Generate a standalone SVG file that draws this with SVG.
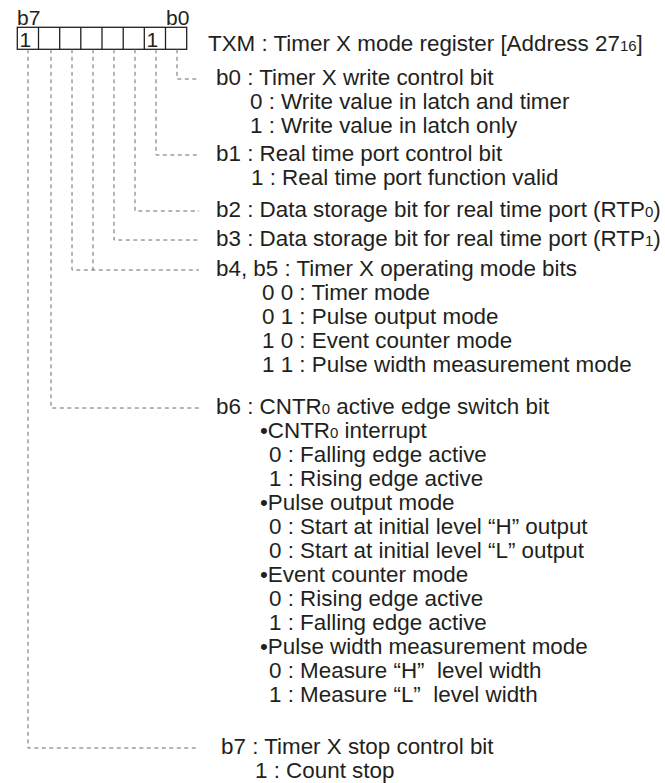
<svg xmlns="http://www.w3.org/2000/svg" width="665" height="783" viewBox="0 0 665 783">
<style>
text{font-family:"Liberation Sans",Arial,sans-serif;font-size:22.4px;fill:#231f20;white-space:pre}
.s{font-size:15px}
.box{fill:#fff;stroke:#231f20;stroke-width:1.3}
.dl{fill:none;stroke:#6a6a6a;stroke-width:1;stroke-dasharray:4 3.5}
</style>
<rect width="665" height="783" fill="#fff"/>
<g id="register">
<text x="17" y="25" style="font-size:21px">b7</text>
<text x="166" y="25" style="font-size:21px">b0</text>
<rect class="box" x="17.3" y="27.3" width="169.4" height="22"/>
<path d="M38.5 27.3V49.3M59.7 27.3V49.3M80.8 27.3V49.3M102 27.3V49.3M123.2 27.3V49.3M144.3 27.3V49.3M165.5 27.3V49.3" stroke="#231f20" stroke-width="1.3"/>
<text x="19.5" y="46.5" style="font-size:21px">1</text>
<text x="146.5" y="46.5" style="font-size:21px">1</text>
<text x="208" y="51">TXM : Timer X mode register [Address 27<tspan class="s">16</tspan>]</text>
</g>
<g id="connectors">
<path class="dl" d="M177 49.3V79H199"/>
<path class="dl" d="M156 49.3V155H199"/>
<path class="dl" d="M135 49.3V211H199"/>
<path class="dl" d="M114 49.3V240H199"/>
<path class="dl" d="M93 49.3V270"/>
<path class="dl" d="M72 49.3V270H199"/>
<path class="dl" d="M51 49.3V408H199"/>
<path class="dl" d="M28 49.3V748H199"/>
</g>
<g id="b0">
<text x="216" y="84.5">b0 : Timer X write control bit</text>
<text x="250" y="108.5">0 : Write value in latch and timer</text>
<text x="250" y="132.5">1 : Write value in latch only</text>
</g>
<g id="b1">
<text x="216" y="160.5">b1 : Real time port control bit</text>
<text x="251" y="184.5">1 : Real time port function valid</text>
</g>
<g id="b2">
<text x="216" y="216.5">b2 : Data storage bit for real time port (RTP<tspan class="s">0</tspan>)</text>
</g>
<g id="b3">
<text x="216" y="245.5">b3 : Data storage bit for real time port (RTP<tspan class="s">1</tspan>)</text>
</g>
<g id="b4b5">
<text x="216" y="275.5">b4, b5 : Timer X operating mode bits</text>
<text x="262" y="299.5">0 0 : Timer mode</text>
<text x="262" y="323.5">0 1 : Pulse output mode</text>
<text x="262" y="347.5">1 0 : Event counter mode</text>
<text x="262" y="371.5">1 1 : Pulse width measurement mode</text>
</g>
<g id="b6">
<text x="216" y="413.5">b6 : CNTR<tspan class="s">0</tspan> active edge switch bit</text>
<text x="260" y="437.5">•CNTR<tspan class="s">0</tspan> interrupt</text>
<text x="269" y="461.5">0 : Falling edge active</text>
<text x="269" y="485.5">1 : Rising edge active</text>
<text x="260" y="509.5">•Pulse output mode</text>
<text x="269" y="533.5">0 : Start at initial level “H” output</text>
<text x="269" y="557.5">0 : Start at initial level “L” output</text>
<text x="260" y="581.5">•Event counter mode</text>
<text x="269" y="605.5">0 : Rising edge active</text>
<text x="269" y="629.5">1 : Falling edge active</text>
<text x="260" y="653.5">•Pulse width measurement mode</text>
<text x="269" y="677.5">0 : Measure “H”  level width</text>
<text x="269" y="701.5">1 : Measure “L”  level width</text>
</g>
<g id="b7">
<text x="221" y="753.5">b7 : Timer X stop control bit</text>
<text x="255" y="777.5">1 : Count stop</text>
</g>
</svg>
